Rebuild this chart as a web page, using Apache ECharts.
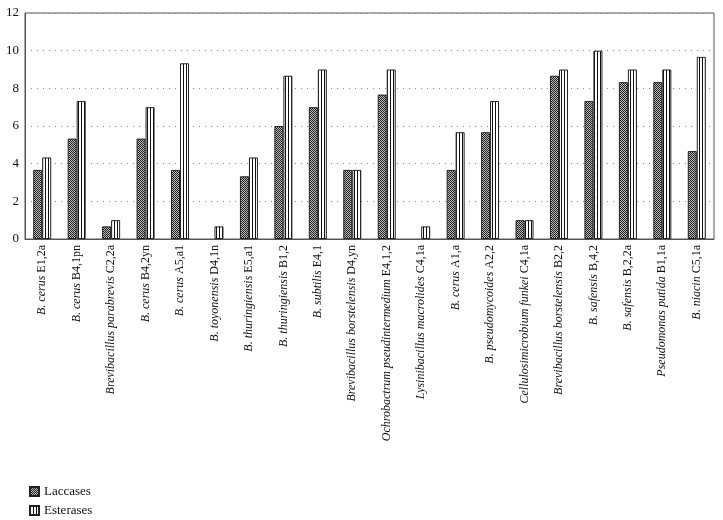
<!DOCTYPE html>
<html>
<head>
<meta charset="utf-8">
<script src="https://cdn.jsdelivr.net/npm/echarts@6/dist/echarts.min.js"></script>
<style>
html,body{margin:0;padding:0;background:#fff;}
#chart{width:723px;height:520px;}
</style>
</head>
<body>
<div id="chart"></div>
<script>
const species = ['B. cerus','B. cerus','Brevibacillus parabrevis','B. cerus','B. cerus','B. toyonensis','B. thuringiensis','B. thuringiensis','B. subtilis','Brevibacillus borstelensis','Ochrobactrum pseudintermedium','Lysinibacillus macrolides','B. cerus','B. pseudomycoides','Cellulosimicrobium funkei','Brevibacillus borstelensis','B. safensis','B. safensis','Pseudomonas putida','B. niacin'];
const strains = ['E1,2a','B4,1pn','C2,2a','B4,2yn','A5,a1','D4,1n','E5,a1','B1,2','E4,1','D4,yn','E4,1,2','C4,1a','A1,a','A2,2','C4,1a','B2,2','B,4,2','B,2,2a','B1,1a','C5,1a'];
const categories = species.map((s, i) => s + ' ' + strains[i]);
const laccases = [3.67, 5.33, 0.67, 5.33, 3.67, 0, 3.33, 6, 7, 3.67, 7.67, 0, 3.67, 5.67, 1, 8.67, 7.33, 8.33, 8.33, 4.67];
const esterases = [4.33, 7.33, 1, 7, 9.33, 0.67, 4.33, 8.67, 9, 3.67, 9, 0.67, 5.67, 7.33, 1, 9, 10, 9, 9, 9.67];
const yTicks = [0, 2, 4, 6, 8, 10, 12];

function checkPattern() {
  const c = document.createElement('canvas');
  c.width = 2; c.height = 2;
  const g = c.getContext('2d');
  g.fillStyle = '#bbb'; g.fillRect(0, 0, 2, 2);
  g.fillStyle = '#222'; g.fillRect(0, 0, 1, 1); g.fillRect(1, 1, 1, 1);
  return c;
}
function stripePattern() {
  const c = document.createElement('canvas');
  c.width = 3; c.height = 3;
  const g = c.getContext('2d');
  g.fillStyle = '#fff'; g.fillRect(0, 0, 3, 3);
  g.fillStyle = '#111'; g.fillRect(0, 0, 1, 3);
  return c;
}
const noZero = arr => arr.map(v => (v === 0 ? '-' : v));

const chart = echarts.init(document.getElementById('chart'), null, {renderer: 'canvas'});
const serif = '"Liberation Serif", "DejaVu Serif", serif';
const legendBase = {
  left: 24, itemWidth: 9, itemHeight: 9, icon: 'rect',
  textStyle: {fontFamily: serif, fontSize: 13, color: '#111'}
};
chart.setOption({
  animation: false,
  textStyle: {fontFamily: serif},
  grid: {left: 25, right: 9, top: 13, bottom: 281, show: true, borderColor: '#555', borderWidth: 1},
  legend: [
    Object.assign({}, legendBase, {top: 480, data: ['Laccases']}),
    Object.assign({}, legendBase, {top: 499, data: ['Esterases']})
  ],
  xAxis: {
    type: 'category', data: categories,
    axisLine: {lineStyle: {color: '#555'}},
    axisTick: {show: false},
    axisLabel: {
      rotate: 90, interval: 0, margin: 6, color: '#111', fontFamily: serif, fontSize: 12,
      formatter: function (v, i) { return '{i|' + species[i] + '} {n|' + strains[i] + '}'; },
      rich: {
        i: {fontStyle: 'italic', fontFamily: serif, fontSize: 12, color: '#111'},
        n: {fontFamily: serif, fontSize: 12, color: '#111'}
      }
    }
  },
  yAxis: {
    type: 'value', min: 0, max: 12, interval: 2,
    axisLine: {show: true, lineStyle: {color: '#555'}},
    axisTick: {show: false},
    axisLabel: {color: '#111', fontFamily: serif, fontSize: 13, margin: 6},
    splitLine: {lineStyle: {color: '#888', type: [1, 5], width: 1}}
  },
  series: [
    {
      name: 'Laccases', type: 'bar', data: noZero(laccases), barWidth: 9, barGap: '0%',
      itemStyle: {color: {image: checkPattern(), repeat: 'repeat'}, borderColor: '#222', borderWidth: 1}
    },
    {
      name: 'Esterases', type: 'bar', data: noZero(esterases), barWidth: 9, barGap: '0%',
      itemStyle: {color: {image: stripePattern(), repeat: 'repeat'}, borderColor: '#222', borderWidth: 1}
    }
  ]
});
</script>
</body>
</html>
